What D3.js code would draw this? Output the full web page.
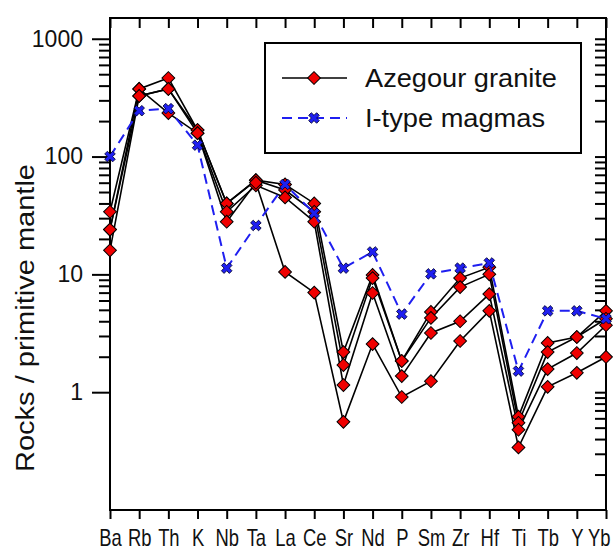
<!DOCTYPE html>
<html>
<head>
<meta charset="utf-8">
<script src="https://cdn.jsdelivr.net/npm/d3@7"></script>
<style>
  body { margin: 0; background: #fff; }
  text { font-family: "Liberation Sans", Arial, sans-serif; fill: #111; }
</style>
</head>
<body>
<svg id="chart" width="613" height="554"></svg>
<script>
// spider diagram, values normalised to primitive mantle
const elements = ['Ba', 'Rb', 'Th', 'K', 'Nb', 'Ta', 'La', 'Ce', 'Sr', 'Nd', 'P', 'Sm', 'Zr', 'Hf', 'Ti', 'Tb', 'Y', 'Yb'];

const sampleA = [24, 327, 375, 168, 40, 63, 58, 40, 2.19, 9.9, 1.84, 4.8, 9.3, 11.5, 0.62, 2.62, 2.94, 4.9];
const sampleB = [34, 375, 464, 168, 40, 63, 52, 34, 1.7, 9.3, 1.84, 4.27, 7.8, 10, 0.55, 2.19, 2.94, 4.2];
const sampleC = [24, 375, 234, 158, 34, 57, 45, 28, 1.15, 6.95, 1.37, 3.18, 4.0, 6.8, 0.48, 1.57, 2.15, 3.7];
const sampleD = [16, 327, 375, 158, 28, 60, 10.5, 7, 0.56, 2.56, 0.91, 1.24, 2.72, 4.9, 0.34, 1.11, 1.46, 1.99];
const iTypeMagmas = [100, 245, 255, 125, 11.3, 26, 58, 33, 11.3, 15.5, 4.6, 10.1, 11.3, 12.5, 1.51, 4.9, 4.9, 4.2];

const majorTicks = [1, 10, 100, 1000];
const yLabels = ['1', '10', '100', '1000'];
const legendLabels = ['Azegour granite', 'I-type magmas'];
const yTitle = 'Rocks / primitive mantle';

const svg = d3.select('#chart');
const mLeft = 110, mRight = 606, mTop = 18, mBottom = 510;

const x = d3.scalePoint().domain(elements).range([mLeft, mRight]);
const y = d3.scaleLog().domain([0.1, 1500]).range([mBottom, mTop]);

// minor ticks 2..9 per decade
const minorLeft = [];
[1, 10, 100].forEach(d => { for (let k = 2; k <= 9; k++) minorLeft.push(d * k); });
const minorRight = [];
[0.1, 1, 10, 100].forEach(d => { for (let k = 2; k <= 9; k++) minorRight.push(d * k); });

function tidy(g) {
  g.select('.domain').remove();
  g.selectAll('line').attr('stroke', '#000').attr('stroke-width', 2);
}

// left axis, ticks outward
svg.append('g').attr('transform', `translate(${mLeft},0)`)
  .call(d3.axisLeft(y).tickValues(majorTicks).tickSize(18).tickPadding(9)
    .tickFormat((d, i) => yLabels[i]))
  .call(tidy)
  .selectAll('text').attr('font-size', 23).attr('font-family', 'Liberation Sans, Arial, sans-serif').attr('fill', '#111');
svg.append('g').attr('transform', `translate(${mLeft},0)`)
  .call(d3.axisLeft(y).tickValues(minorLeft).tickSize(11).tickFormat(''))
  .call(tidy);

// right axis, ticks inward
svg.append('g').attr('transform', `translate(${mRight},0)`)
  .call(d3.axisRight(y).tickValues(majorTicks.concat(minorRight)).tickSize(-11).tickFormat(''))
  .call(tidy);

// top axis, ticks inward
svg.append('g').attr('transform', `translate(0,${mTop})`)
  .call(d3.axisTop(x).tickSize(-10).tickFormat(''))
  .call(tidy);

// bottom axis, ticks outward; labels squeezed horizontally
const xAxis = svg.append('g').attr('transform', `translate(0,${mBottom})`)
  .call(d3.axisBottom(x).tickSize(9).tickPadding(11))
  .call(tidy);
xAxis.selectAll('text')
  .attr('font-size', 23).attr('font-family', 'Liberation Sans, Arial, sans-serif').attr('fill', '#111')
  .attr('transform', 'scale(0.8,1)');
xAxis.selectAll('text').filter(d => d === 'Yb').attr('text-anchor', 'end').attr('x', 5);

// frame
svg.append('rect')
  .attr('x', mLeft).attr('y', mTop)
  .attr('width', mRight - mLeft).attr('height', mBottom - mTop)
  .attr('fill', 'none').attr('stroke', '#000').attr('stroke-width', 2);

// y title
svg.append('text')
  .attr('transform', `translate(34,318) rotate(-90)`)
  .attr('text-anchor', 'middle')
  .attr('font-size', 25)
  .attr('textLength', 308)
  .attr('lengthAdjust', 'spacingAndGlyphs')
  .text(yTitle);

const line = d3.line()
  .x((d, i) => x(elements[i]))
  .y(d => y(d));

const diamond = d3.symbol().type(d3.symbolSquare).size(82);
const cross = d3.symbol().type(d3.symbolCross).size(70);

const samples = [sampleA, sampleB, sampleC, sampleD];

samples.forEach(s => {
  svg.append('path')
    .datum(s)
    .attr('fill', 'none')
    .attr('stroke', '#000')
    .attr('stroke-width', 1.6)
    .attr('d', line);
});

samples.forEach(s => {
  svg.append('g').selectAll('path')
    .data(s)
    .join('path')
    .attr('d', diamond)
    .attr('transform', (d, i) => `translate(${x(elements[i])},${y(d)}) rotate(45)`)
    .attr('fill', '#f00000')
    .attr('stroke', '#000')
    .attr('stroke-width', 1);
});

svg.append('path')
  .datum(iTypeMagmas)
  .attr('fill', 'none')
  .attr('stroke', '#1f1ff0')
  .attr('stroke-width', 2)
  .attr('stroke-dasharray', '10,6')
  .attr('d', line);

svg.append('g').selectAll('path')
  .data(iTypeMagmas)
  .join('path')
  .attr('d', cross)
  .attr('transform', (d, i) => `translate(${x(elements[i])},${y(d)}) rotate(45)`)
  .attr('fill', '#1f1ff0')
  .attr('stroke', '#000030')
  .attr('stroke-width', 0.8);

// legend
const legend = svg.append('g');
legend.append('rect')
  .attr('x', 265).attr('y', 43).attr('width', 316).attr('height', 110)
  .attr('fill', '#fff').attr('stroke', '#000').attr('stroke-width', 2);

const rows = [78, 118];
legend.append('line').attr('x1', 282).attr('x2', 347).attr('y1', rows[0]).attr('y2', rows[0])
  .attr('stroke', '#000').attr('stroke-width', 1.6);
legend.append('path').attr('d', diamond)
  .attr('transform', `translate(314,${rows[0]}) rotate(45)`)
  .attr('fill', '#f00000').attr('stroke', '#000').attr('stroke-width', 1);
legend.append('line').attr('x1', 282).attr('x2', 347).attr('y1', rows[1]).attr('y2', rows[1])
  .attr('stroke', '#1f1ff0').attr('stroke-width', 2).attr('stroke-dasharray', '10,6');
legend.append('path').attr('d', cross)
  .attr('transform', `translate(314,${rows[1]}) rotate(45)`)
  .attr('fill', '#1f1ff0').attr('stroke', '#000030').attr('stroke-width', 0.8);

legendLabels.forEach((t, i) => {
  legend.append('text')
    .attr('x', 365).attr('y', rows[i] + 9)
    .attr('font-size', 25)
    .attr('textLength', i === 0 ? 192 : 180)
    .attr('lengthAdjust', 'spacingAndGlyphs')
    .text(t);
});
</script>
</body>
</html>
